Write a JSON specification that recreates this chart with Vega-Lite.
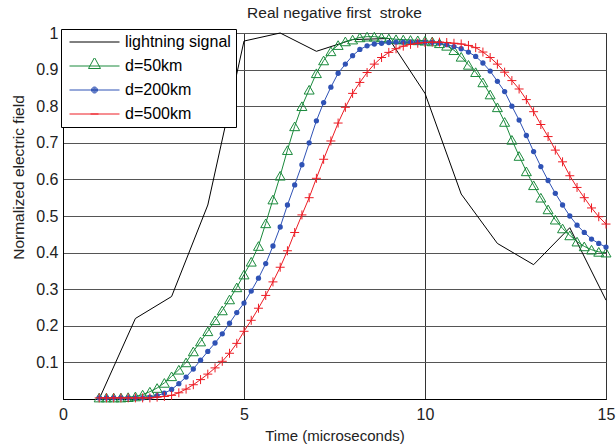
{
  "$schema": "https://vega.github.io/schema/vega-lite/v6.json",
  "autosize": {"type": "none"},
  "padding": {"left": 63, "top": 33, "right": 10, "bottom": 45},
  "width": 543,
  "height": 366,
  "background": "#ffffff",
  "title": {"text": "Real negative first\u00a0 stroke", "font": "Liberation Sans", "fontSize": 15.5, "fontWeight": "normal", "color": "#222222", "offset": 4, "frame": "group", "anchor": "middle"},
  "config": {
    "view": {"stroke": "#000000", "strokeWidth": 1},
    "axis": {"labelFont": "Liberation Sans", "labelFontSize": 16, "labelColor": "#222222", "titleFont": "Liberation Sans", "titleFontSize": 15.5, "titleFontWeight": "normal", "titleColor": "#222222", "domainColor": "#000000", "tickSize": 0, "gridOpacity": 1, "gridWidth": 1, "labelFlush": false}
  },
  "data": {"values": [
    {"s": "lightning signal", "t": 1, "v": 0},
    {"s": "lightning signal", "t": 2, "v": 0.22},
    {"s": "lightning signal", "t": 3, "v": 0.28},
    {"s": "lightning signal", "t": 4, "v": 0.53},
    {"s": "lightning signal", "t": 5, "v": 0.978},
    {"s": "lightning signal", "t": 6, "v": 1.0},
    {"s": "lightning signal", "t": 7, "v": 0.95},
    {"s": "lightning signal", "t": 8, "v": 0.982},
    {"s": "lightning signal", "t": 9, "v": 0.985},
    {"s": "lightning signal", "t": 10, "v": 0.835},
    {"s": "lightning signal", "t": 11, "v": 0.56},
    {"s": "lightning signal", "t": 12, "v": 0.425},
    {"s": "lightning signal", "t": 13, "v": 0.367},
    {"s": "lightning signal", "t": 14, "v": 0.468},
    {"s": "lightning signal", "t": 15, "v": 0.27},
    {"s": "d=50km", "t": 1.0, "v": 0.004},
    {"s": "d=50km", "t": 1.2, "v": 0.004},
    {"s": "d=50km", "t": 1.4, "v": 0.004},
    {"s": "d=50km", "t": 1.6, "v": 0.004},
    {"s": "d=50km", "t": 1.8, "v": 0.005},
    {"s": "d=50km", "t": 2.0, "v": 0.007},
    {"s": "d=50km", "t": 2.2, "v": 0.012},
    {"s": "d=50km", "t": 2.4, "v": 0.02},
    {"s": "d=50km", "t": 2.6, "v": 0.03},
    {"s": "d=50km", "t": 2.8, "v": 0.044},
    {"s": "d=50km", "t": 3.0, "v": 0.062},
    {"s": "d=50km", "t": 3.2, "v": 0.08},
    {"s": "d=50km", "t": 3.4, "v": 0.1},
    {"s": "d=50km", "t": 3.6, "v": 0.13},
    {"s": "d=50km", "t": 3.8, "v": 0.157},
    {"s": "d=50km", "t": 4.0, "v": 0.185},
    {"s": "d=50km", "t": 4.2, "v": 0.215},
    {"s": "d=50km", "t": 4.4, "v": 0.242},
    {"s": "d=50km", "t": 4.6, "v": 0.272},
    {"s": "d=50km", "t": 4.8, "v": 0.305},
    {"s": "d=50km", "t": 5.0, "v": 0.34},
    {"s": "d=50km", "t": 5.2, "v": 0.375},
    {"s": "d=50km", "t": 5.4, "v": 0.418},
    {"s": "d=50km", "t": 5.6, "v": 0.48},
    {"s": "d=50km", "t": 5.8, "v": 0.545},
    {"s": "d=50km", "t": 6.0, "v": 0.61},
    {"s": "d=50km", "t": 6.2, "v": 0.68},
    {"s": "d=50km", "t": 6.4, "v": 0.745},
    {"s": "d=50km", "t": 6.6, "v": 0.8},
    {"s": "d=50km", "t": 6.8, "v": 0.845},
    {"s": "d=50km", "t": 7.0, "v": 0.89},
    {"s": "d=50km", "t": 7.2, "v": 0.925},
    {"s": "d=50km", "t": 7.4, "v": 0.95},
    {"s": "d=50km", "t": 7.6, "v": 0.967},
    {"s": "d=50km", "t": 7.8, "v": 0.977},
    {"s": "d=50km", "t": 8.0, "v": 0.982},
    {"s": "d=50km", "t": 8.2, "v": 0.988},
    {"s": "d=50km", "t": 8.4, "v": 0.99},
    {"s": "d=50km", "t": 8.6, "v": 0.99},
    {"s": "d=50km", "t": 8.8, "v": 0.988},
    {"s": "d=50km", "t": 9.0, "v": 0.985},
    {"s": "d=50km", "t": 9.2, "v": 0.983},
    {"s": "d=50km", "t": 9.4, "v": 0.982},
    {"s": "d=50km", "t": 9.6, "v": 0.981},
    {"s": "d=50km", "t": 9.8, "v": 0.98},
    {"s": "d=50km", "t": 10.0, "v": 0.979},
    {"s": "d=50km", "t": 10.2, "v": 0.977},
    {"s": "d=50km", "t": 10.4, "v": 0.972},
    {"s": "d=50km", "t": 10.6, "v": 0.965},
    {"s": "d=50km", "t": 10.8, "v": 0.953},
    {"s": "d=50km", "t": 11.0, "v": 0.935},
    {"s": "d=50km", "t": 11.2, "v": 0.913},
    {"s": "d=50km", "t": 11.4, "v": 0.893},
    {"s": "d=50km", "t": 11.6, "v": 0.865},
    {"s": "d=50km", "t": 11.8, "v": 0.832},
    {"s": "d=50km", "t": 12.0, "v": 0.797},
    {"s": "d=50km", "t": 12.2, "v": 0.757},
    {"s": "d=50km", "t": 12.4, "v": 0.708},
    {"s": "d=50km", "t": 12.6, "v": 0.664},
    {"s": "d=50km", "t": 12.8, "v": 0.622},
    {"s": "d=50km", "t": 13.0, "v": 0.584},
    {"s": "d=50km", "t": 13.2, "v": 0.55},
    {"s": "d=50km", "t": 13.4, "v": 0.518},
    {"s": "d=50km", "t": 13.6, "v": 0.49},
    {"s": "d=50km", "t": 13.8, "v": 0.466},
    {"s": "d=50km", "t": 14.0, "v": 0.447},
    {"s": "d=50km", "t": 14.2, "v": 0.43},
    {"s": "d=50km", "t": 14.4, "v": 0.417},
    {"s": "d=50km", "t": 14.6, "v": 0.408},
    {"s": "d=50km", "t": 14.8, "v": 0.402},
    {"s": "d=50km", "t": 15.0, "v": 0.4},
    {"s": "d=200km", "t": 1.0, "v": 0.003},
    {"s": "d=200km", "t": 1.2, "v": 0.003},
    {"s": "d=200km", "t": 1.4, "v": 0.003},
    {"s": "d=200km", "t": 1.6, "v": 0.003},
    {"s": "d=200km", "t": 1.8, "v": 0.003},
    {"s": "d=200km", "t": 2.0, "v": 0.003},
    {"s": "d=200km", "t": 2.2, "v": 0.003},
    {"s": "d=200km", "t": 2.4, "v": 0.005},
    {"s": "d=200km", "t": 2.6, "v": 0.009},
    {"s": "d=200km", "t": 2.8, "v": 0.016},
    {"s": "d=200km", "t": 3.0, "v": 0.026},
    {"s": "d=200km", "t": 3.2, "v": 0.042},
    {"s": "d=200km", "t": 3.4, "v": 0.06},
    {"s": "d=200km", "t": 3.6, "v": 0.082},
    {"s": "d=200km", "t": 3.8, "v": 0.106},
    {"s": "d=200km", "t": 4.0, "v": 0.13},
    {"s": "d=200km", "t": 4.2, "v": 0.153},
    {"s": "d=200km", "t": 4.4, "v": 0.178},
    {"s": "d=200km", "t": 4.6, "v": 0.207},
    {"s": "d=200km", "t": 4.8, "v": 0.236},
    {"s": "d=200km", "t": 5.0, "v": 0.262},
    {"s": "d=200km", "t": 5.2, "v": 0.295},
    {"s": "d=200km", "t": 5.4, "v": 0.33},
    {"s": "d=200km", "t": 5.6, "v": 0.37},
    {"s": "d=200km", "t": 5.8, "v": 0.418},
    {"s": "d=200km", "t": 6.0, "v": 0.47},
    {"s": "d=200km", "t": 6.2, "v": 0.53},
    {"s": "d=200km", "t": 6.4, "v": 0.585},
    {"s": "d=200km", "t": 6.6, "v": 0.64},
    {"s": "d=200km", "t": 6.8, "v": 0.7},
    {"s": "d=200km", "t": 7.0, "v": 0.76},
    {"s": "d=200km", "t": 7.2, "v": 0.81},
    {"s": "d=200km", "t": 7.4, "v": 0.852},
    {"s": "d=200km", "t": 7.6, "v": 0.89},
    {"s": "d=200km", "t": 7.8, "v": 0.915},
    {"s": "d=200km", "t": 8.0, "v": 0.938},
    {"s": "d=200km", "t": 8.2, "v": 0.955},
    {"s": "d=200km", "t": 8.4, "v": 0.965},
    {"s": "d=200km", "t": 8.6, "v": 0.97},
    {"s": "d=200km", "t": 8.8, "v": 0.972},
    {"s": "d=200km", "t": 9.0, "v": 0.974},
    {"s": "d=200km", "t": 9.2, "v": 0.975},
    {"s": "d=200km", "t": 9.4, "v": 0.975},
    {"s": "d=200km", "t": 9.6, "v": 0.975},
    {"s": "d=200km", "t": 9.8, "v": 0.975},
    {"s": "d=200km", "t": 10.0, "v": 0.975},
    {"s": "d=200km", "t": 10.2, "v": 0.974},
    {"s": "d=200km", "t": 10.4, "v": 0.972},
    {"s": "d=200km", "t": 10.6, "v": 0.968},
    {"s": "d=200km", "t": 10.8, "v": 0.963},
    {"s": "d=200km", "t": 11.0, "v": 0.957},
    {"s": "d=200km", "t": 11.2, "v": 0.948},
    {"s": "d=200km", "t": 11.4, "v": 0.936},
    {"s": "d=200km", "t": 11.6, "v": 0.918},
    {"s": "d=200km", "t": 11.8, "v": 0.896},
    {"s": "d=200km", "t": 12.0, "v": 0.868},
    {"s": "d=200km", "t": 12.2, "v": 0.84},
    {"s": "d=200km", "t": 12.4, "v": 0.8},
    {"s": "d=200km", "t": 12.6, "v": 0.762},
    {"s": "d=200km", "t": 12.8, "v": 0.72},
    {"s": "d=200km", "t": 13.0, "v": 0.676},
    {"s": "d=200km", "t": 13.2, "v": 0.635},
    {"s": "d=200km", "t": 13.4, "v": 0.597},
    {"s": "d=200km", "t": 13.6, "v": 0.562},
    {"s": "d=200km", "t": 13.8, "v": 0.53},
    {"s": "d=200km", "t": 14.0, "v": 0.5},
    {"s": "d=200km", "t": 14.2, "v": 0.475},
    {"s": "d=200km", "t": 14.4, "v": 0.455},
    {"s": "d=200km", "t": 14.6, "v": 0.437},
    {"s": "d=200km", "t": 14.8, "v": 0.425},
    {"s": "d=200km", "t": 15.0, "v": 0.415},
    {"s": "d=500km", "t": 1.0, "v": 0.003},
    {"s": "d=500km", "t": 1.2, "v": 0.003},
    {"s": "d=500km", "t": 1.4, "v": 0.003},
    {"s": "d=500km", "t": 1.6, "v": 0.003},
    {"s": "d=500km", "t": 1.8, "v": 0.003},
    {"s": "d=500km", "t": 2.0, "v": 0.003},
    {"s": "d=500km", "t": 2.2, "v": 0.003},
    {"s": "d=500km", "t": 2.4, "v": 0.003},
    {"s": "d=500km", "t": 2.6, "v": 0.005},
    {"s": "d=500km", "t": 2.8, "v": 0.007},
    {"s": "d=500km", "t": 3.0, "v": 0.01},
    {"s": "d=500km", "t": 3.2, "v": 0.017},
    {"s": "d=500km", "t": 3.4, "v": 0.027},
    {"s": "d=500km", "t": 3.6, "v": 0.039},
    {"s": "d=500km", "t": 3.8, "v": 0.053},
    {"s": "d=500km", "t": 4.0, "v": 0.068},
    {"s": "d=500km", "t": 4.2, "v": 0.085},
    {"s": "d=500km", "t": 4.4, "v": 0.103},
    {"s": "d=500km", "t": 4.6, "v": 0.125},
    {"s": "d=500km", "t": 4.8, "v": 0.152},
    {"s": "d=500km", "t": 5.0, "v": 0.185},
    {"s": "d=500km", "t": 5.2, "v": 0.215},
    {"s": "d=500km", "t": 5.4, "v": 0.248},
    {"s": "d=500km", "t": 5.6, "v": 0.283},
    {"s": "d=500km", "t": 5.8, "v": 0.32},
    {"s": "d=500km", "t": 6.0, "v": 0.36},
    {"s": "d=500km", "t": 6.2, "v": 0.405},
    {"s": "d=500km", "t": 6.4, "v": 0.455},
    {"s": "d=500km", "t": 6.6, "v": 0.503},
    {"s": "d=500km", "t": 6.8, "v": 0.55},
    {"s": "d=500km", "t": 7.0, "v": 0.603},
    {"s": "d=500km", "t": 7.2, "v": 0.655},
    {"s": "d=500km", "t": 7.4, "v": 0.705},
    {"s": "d=500km", "t": 7.6, "v": 0.754},
    {"s": "d=500km", "t": 7.8, "v": 0.797},
    {"s": "d=500km", "t": 8.0, "v": 0.835},
    {"s": "d=500km", "t": 8.2, "v": 0.865},
    {"s": "d=500km", "t": 8.4, "v": 0.892},
    {"s": "d=500km", "t": 8.6, "v": 0.915},
    {"s": "d=500km", "t": 8.8, "v": 0.933},
    {"s": "d=500km", "t": 9.0, "v": 0.947},
    {"s": "d=500km", "t": 9.2, "v": 0.957},
    {"s": "d=500km", "t": 9.4, "v": 0.964},
    {"s": "d=500km", "t": 9.6, "v": 0.969},
    {"s": "d=500km", "t": 9.8, "v": 0.972},
    {"s": "d=500km", "t": 10.0, "v": 0.974},
    {"s": "d=500km", "t": 10.2, "v": 0.975},
    {"s": "d=500km", "t": 10.4, "v": 0.975},
    {"s": "d=500km", "t": 10.6, "v": 0.974},
    {"s": "d=500km", "t": 10.8, "v": 0.972},
    {"s": "d=500km", "t": 11.0, "v": 0.97},
    {"s": "d=500km", "t": 11.2, "v": 0.966},
    {"s": "d=500km", "t": 11.4, "v": 0.96},
    {"s": "d=500km", "t": 11.6, "v": 0.948},
    {"s": "d=500km", "t": 11.8, "v": 0.933},
    {"s": "d=500km", "t": 12.0, "v": 0.915},
    {"s": "d=500km", "t": 12.2, "v": 0.893},
    {"s": "d=500km", "t": 12.4, "v": 0.87},
    {"s": "d=500km", "t": 12.6, "v": 0.847},
    {"s": "d=500km", "t": 12.8, "v": 0.818},
    {"s": "d=500km", "t": 13.0, "v": 0.785},
    {"s": "d=500km", "t": 13.2, "v": 0.75},
    {"s": "d=500km", "t": 13.4, "v": 0.717},
    {"s": "d=500km", "t": 13.6, "v": 0.68},
    {"s": "d=500km", "t": 13.8, "v": 0.648},
    {"s": "d=500km", "t": 14.0, "v": 0.61},
    {"s": "d=500km", "t": 14.2, "v": 0.578},
    {"s": "d=500km", "t": 14.4, "v": 0.55},
    {"s": "d=500km", "t": 14.6, "v": 0.522},
    {"s": "d=500km", "t": 14.8, "v": 0.498},
    {"s": "d=500km", "t": 15.0, "v": 0.478}
  ]},
  "encoding": {
    "x": {"field": "t", "type": "quantitative", "scale": {"domain": [0, 15], "nice": false, "zero": false},
      "axis": {"values": [0, 5, 10, 15], "title": "Time (microseconds)", "grid": true, "gridColor": "#333333", "labelPadding": 7, "titleY": 36, "titleBaseline": "middle", "titleFontSize": 15}},
    "y": {"field": "v", "type": "quantitative", "scale": {"domain": [0, 1], "nice": false, "zero": false},
      "axis": {"values": [0.1, 0.2, 0.3, 0.4, 0.5, 0.6, 0.7, 0.8, 0.9, 1.0], "format": ".1~f", "title": "Normalized electric field", "grid": true, "gridColor": "#555555", "labelPadding": 5, "titleX": -45, "titleY": 144, "titleBaseline": "middle"}}
  },
  "layer": [
    {"transform": [{"filter": {"field": "s", "equal": "lightning signal"}}],
     "mark": {"type": "line", "color": "#000000", "strokeWidth": 1}},
    {"transform": [{"filter": {"field": "s", "equal": "d=50km"}}],
     "mark": {"type": "line", "color": "#1a8a3c", "strokeWidth": 1}},
    {"transform": [{"filter": {"field": "s", "equal": "d=50km"}}],
     "mark": {"type": "point", "shape": "triangle-up", "filled": false, "size": 100, "color": "#1a8a3c", "strokeWidth": 1, "opacity": 1}},
    {"transform": [{"filter": {"field": "s", "equal": "d=200km"}}],
     "mark": {"type": "line", "color": "#2f52b5", "strokeWidth": 1}},
    {"transform": [{"filter": {"field": "s", "equal": "d=200km"}}],
     "mark": {"type": "point", "shape": "circle", "filled": true, "size": 28, "color": "#2f52b5", "opacity": 1}},
    {"transform": [{"filter": {"field": "s", "equal": "d=500km"}}],
     "mark": {"type": "line", "color": "#ed1c24", "strokeWidth": 1}},
    {"transform": [{"filter": {"field": "s", "equal": "d=500km"}}],
     "mark": {"type": "point", "shape": "M-1,0H1M0,-1V1", "filled": false, "size": 81, "color": "#ed1c24", "strokeWidth": 1, "opacity": 1}},
    {"transform": [{"filter": "datum.t > 100"}],
     "mark": {"type": "point", "filled": false, "opacity": 1, "strokeWidth": 1},
     "encoding": {
       "color": {"field": "s", "type": "nominal",
         "scale": {"domain": ["lightning signal", "d=50km", "d=200km", "d=500km"], "range": ["#000000", "#1a8a3c", "#2f52b5", "#ed1c24"]},
         "legend": {"title": null, "orient": "none", "legendX": -2, "legendY": -4, "padding": 5, "strokeColor": "#000000", "fillColor": "#ffffff", "symbolSize": 2500, "symbolStrokeWidth": 1, "labelFont": "Liberation Sans", "labelFontSize": 16, "labelColor": "#000000", "labelOffset": 5, "rowPadding": 8, "clipHeight": 16, "labelLimit": 300, "symbolOffset": 3}},
       "shape": {"field": "s", "type": "nominal",
         "scale": {"domain": ["lightning signal", "d=50km", "d=200km", "d=500km"], "range": [
           "M-1,0H1",
           "M-1,0H1M0,-0.34L0.24,0.1L-0.24,0.1Z",
           "M-1,0H1M-0.12,0A0.12,0.12,0,1,0,0.12,0A0.12,0.12,0,1,0,-0.12,0M-0.088,0A0.088,0.088,0,1,0,0.088,0A0.088,0.088,0,1,0,-0.088,0M-0.056,0A0.056,0.056,0,1,0,0.056,0A0.056,0.056,0,1,0,-0.056,0M-0.024,0A0.024,0.024,0,1,0,0.024,0A0.024,0.024,0,1,0,-0.024,0",
           "M-1,0H1M-0.16,0H0.16"]},
         "legend": {"title": null, "orient": "none", "legendX": -2, "legendY": -4, "padding": 5, "strokeColor": "#000000", "fillColor": "#ffffff", "symbolSize": 2500, "symbolStrokeWidth": 1, "labelFont": "Liberation Sans", "labelFontSize": 16, "labelColor": "#000000", "labelOffset": 5, "rowPadding": 8, "clipHeight": 16, "labelLimit": 300, "symbolOffset": 3}}
     }}
  ]
}
